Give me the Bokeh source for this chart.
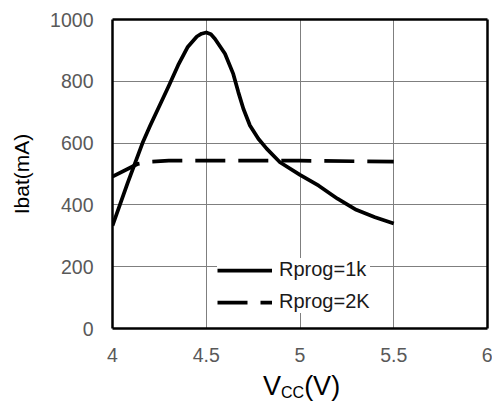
from bokeh.plotting import figure
from bokeh.models import Range1d, FixedTicker, Legend, LegendItem, LinearAxis, Div
from bokeh.layouts import column
from bokeh.embed import file_html
from bokeh.resources import INLINE

# data
vcc_1k = [4.0, 4.08, 4.16, 4.2, 4.25, 4.3, 4.35, 4.4, 4.45, 4.475, 4.5, 4.525, 4.547, 4.6,
          4.644, 4.671, 4.698, 4.733, 4.778, 4.822, 4.893, 5.0, 5.1, 5.2, 5.3, 5.4, 5.5]
ibat_1k = [333, 470, 600, 655, 720, 785, 852, 910, 945, 954, 958, 952, 937, 889,
           824, 765, 711, 657, 614, 582, 538, 497, 462, 420, 384, 360, 340]
vcc_2k = [4.0, 4.136, 4.2, 4.3, 4.5, 5.0, 5.5]
ibat_2k = [492, 533, 540, 543, 543, 543, 540]
x_ticks = [4, 4.5, 5, 5.5, 6]
x_tick_labels = ["4", "4.5", "5", "5.5", "6"]
y_ticks = [0, 200, 400, 600, 800, 1000]
series_names = ["Rprog=1k", "Rprog=2K"]

FONT = "Liberation Sans"

p = figure(frame_width=375, frame_height=309, output_backend="svg", toolbar_location=None,
           x_range=Range1d(4, 6), y_range=Range1d(0, 1000),
           min_border_left=112, min_border_right=5, min_border_top=19, min_border_bottom=40)

p.xaxis.ticker = FixedTicker(ticks=x_ticks)
p.xaxis.major_label_overrides = {t: l for t, l in zip(x_ticks, x_tick_labels)}
p.yaxis.ticker = FixedTicker(ticks=y_ticks)

for ax in (p.xaxis[0], p.yaxis[0]):
    ax.major_tick_line_color = None
    ax.minor_tick_line_color = None
    ax.axis_line_color = "black"
    ax.axis_line_width = 2.5
    ax.major_label_text_font = FONT
    ax.major_label_text_font_size = "19.5px"
    ax.major_label_text_color = "#595959"
    ax.major_label_standoff = 13

# frame border on top and right
for side in ("above", "right"):
    ax = LinearAxis(ticker=FixedTicker(ticks=[]), major_tick_line_color=None,
                    minor_tick_line_color=None, axis_line_color="black", axis_line_width=2.5,
                    major_label_text_font_size="0px", major_label_standoff=0)
    p.add_layout(ax, side)

p.yaxis[0].axis_label = "Ibat(mA)"
p.yaxis[0].axis_label_text_font = FONT
p.yaxis[0].axis_label_text_font_size = "21px"
p.yaxis[0].axis_label_text_font_style = "normal"
p.yaxis[0].axis_label_text_color = "black"
p.yaxis[0].axis_label_standoff = 14

p.xgrid.grid_line_color = "#7f7f7f"
p.ygrid.grid_line_color = "#7f7f7f"
p.xgrid.grid_line_width = 1
p.ygrid.grid_line_width = 1
p.outline_line_color = None

r1 = p.line(vcc_1k, ibat_1k, line_color="black", line_width=3.75, line_join="round")
r2 = p.line(vcc_2k, ibat_2k, line_color="black", line_width=3.75, line_dash="30 13")

legend = Legend(items=[LegendItem(label=series_names[0], renderers=[r1]),
                       LegendItem(label=series_names[1], renderers=[r2])],
                location=(105, 15), padding=8, margin=0, spacing=9,
                glyph_width=55, glyph_height=22, label_height=22, label_standoff=7,
                label_text_font=FONT, label_text_font_size="20px", label_text_color="#1a1a1a",
                border_line_color=None, background_fill_color="white", background_fill_alpha=1.0)
p.add_layout(legend, "center")

xlabel = Div(text='<span style="font-family:\'Liberation Sans\';font-size:27px;line-height:31px;color:black;white-space:nowrap">'
                  'V<span style="font-size:16px;position:relative;top:3px">CC</span>(V)</span>',
             width=200, height=34, margin=(3, 0, 0, 263))

layout = column(p, xlabel, spacing=0)

open("out.html", "w").write(file_html(layout, INLINE))
